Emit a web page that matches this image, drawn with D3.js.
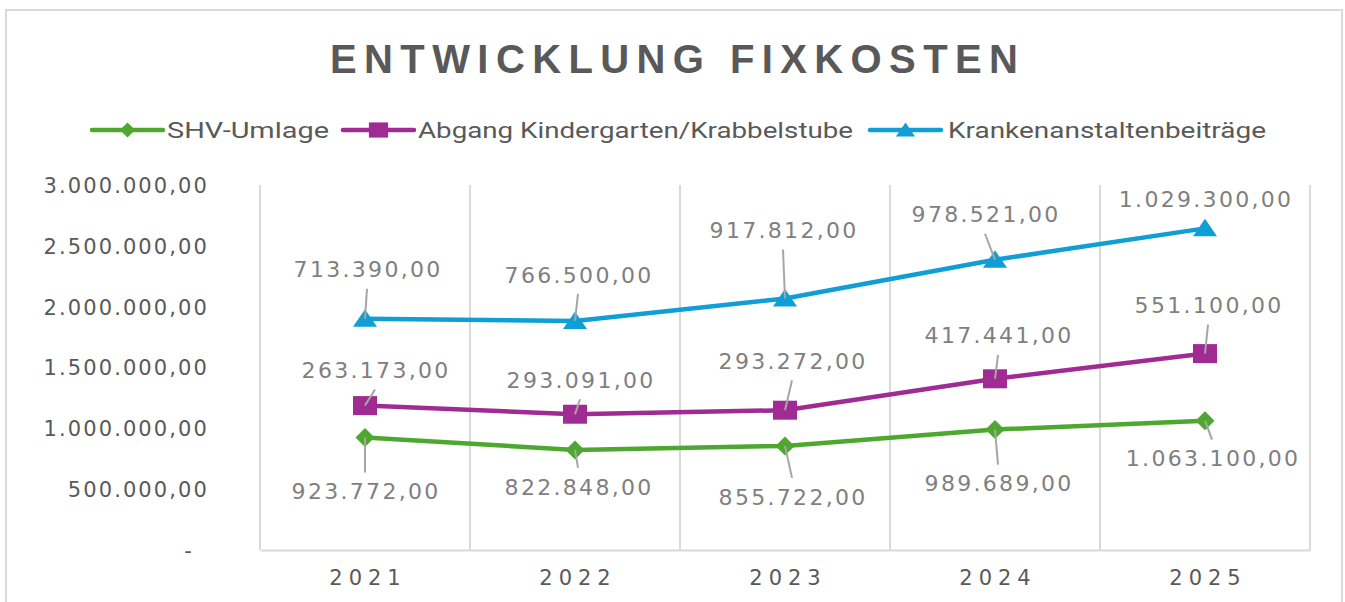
<!DOCTYPE html>
<html>
<head>
<meta charset="utf-8">
<script src="https://cdn.jsdelivr.net/npm/d3@7"></script>
<style>
  html, body { margin: 0; padding: 0; background: #ffffff; }
  svg { display: block; }
</style>
</head>
<body>
<svg id="chart" width="1345" height="602"></svg>
<script>
// ---------------- DATA ----------------
const title = "ENTWICKLUNG FIXKOSTEN";
const years = ["2021", "2022", "2023", "2024", "2025"];
const seriesNames = ["SHV-Umlage", "Abgang Kindergarten/Krabbelstube", "Krankenanstaltenbeiträge"];
const shvUmlage = [923772, 822848, 855722, 989689, 1063100];
const abgangKinder = [263173, 293091, 293272, 417441, 551100];
const krankenanstalten = [713390, 766500, 917812, 978521, 1029300];
const yTickValues = [0, 500000, 1000000, 1500000, 2000000, 2500000, 3000000];

// ---------------- LAYOUT / STYLE ----------------
const W = 1345, H = 602;
const plot = { left: 260, right: 1310, top: 185, bottom: 550 };
const colors = ["#4EA72E", "#A02B93", "#0F9ED5"];
const markerShapes = ["diamond", "square", "triangle"];
// label offsets (dx, dy) from the point to the label centre, per series per year
const labelOffsets = [
  [[0, 54], [3, 37], [7, 51], [3, 54], [7, 38]],
  [[10, -35], [5, -34], [7, -49], [3, -43], [3, -48]],
  [[2, -49], [3, -46], [-2, -68], [-10, -45], [0, -29]]
];
const legendLayout = { y: 130, lineX: [92, 343, 870], lineLen: 71, textX: [167, 418, 948], textW: [162, 435, 318] };

const svg = d3.select("#chart");
svg.append("rect").attr("width", W).attr("height", H).attr("fill", "#fff");
svg.append("rect").attr("x", 6).attr("y", 10).attr("width", 1336).attr("height", 600)
  .attr("fill", "none").attr("stroke", "#d9d9d9").attr("stroke-width", 2);

// locale
const de = d3.formatLocale({ decimal: ",", thousands: ".", grouping: [3], currency: ["", " €"] });
const fmt = de.format(",.2f");

// table + stacking
const keys = ["shv", "abgang", "kranken"];
const rows = years.map((y, i) => ({ year: y, shv: shvUmlage[i], abgang: abgangKinder[i], kranken: krankenanstalten[i] }));
const stacked = d3.stack().keys(keys)(rows);
const rawSeries = [shvUmlage, abgangKinder, krankenanstalten];

// scales
const x = d3.scaleBand().domain(years).range([plot.left, plot.right]).paddingInner(0).paddingOuter(0);
const cx = d => x(d) + x.bandwidth() / 2;
const y = d3.scaleLinear().domain([0, 3000000]).range([plot.bottom, plot.top]);

// vertical gridlines (category boundaries)
const gridXs = years.map(d => x(d)).concat([x(years[years.length - 1]) + x.bandwidth()]);
svg.append("g").selectAll("line").data(gridXs).join("line")
  .attr("x1", d => d).attr("x2", d => d)
  .attr("y1", plot.top).attr("y2", plot.bottom)
  .attr("stroke", "#d9d9d9").attr("stroke-width", 2);

// x axis
const xAxis = svg.append("g").attr("transform", `translate(0,${plot.bottom})`)
  .call(d3.axisBottom(x).tickSize(0).tickSizeOuter(0).tickPadding(0));
xAxis.select(".domain").attr("stroke", "#d9d9d9").attr("stroke-width", 2);
xAxis.selectAll(".tick text")
  .attr("y", 28).attr("dy", "0.35em").attr("dx", 3)
  .attr("fill", "#595959").style("font-family", "'DejaVu Sans', sans-serif")
  .style("font-size", "21px").style("letter-spacing", "6px");

// y axis
const yAxis = svg.append("g").attr("transform", `translate(209,0)`)
  .call(d3.axisLeft(y).tickValues(yTickValues).tickSize(0).tickPadding(0)
    .tickFormat(d => d === 0 ? "-" : fmt(d)));
yAxis.select(".domain").remove();
yAxis.selectAll(".tick text")
  .attr("x", 0).attr("dy", "0.35em")
  .attr("fill", "#595959").style("font-family", "'DejaVu Sans', sans-serif")
  .style("font-size", "21px").style("letter-spacing", "2.1px");
yAxis.selectAll(".tick text").filter(d => d === 0).attr("x", -15);

// marker path generators
function markerPath(shape, s) {
  s = s || 1;
  if (shape === "diamond") return `M0,${-9.5 * s}L${9.5 * s},0L0,${9.5 * s}L${-9.5 * s},0Z`;
  if (shape === "square") return `M${-12 * s},${-9.5 * s}H${12 * s}V${9.5 * s}H${-12 * s}Z`;
  return `M0,${-9.5 * s}L${12 * s},${8 * s}L${-12 * s},${8 * s}Z`;
}

// lines
const line = d3.line().x(d => cx(d.data.year)).y(d => y(d[1]));
stacked.forEach((s, i) => {
  svg.append("path").datum(s).attr("d", line)
    .attr("fill", "none").attr("stroke", colors[i]).attr("stroke-width", 4.5)
    .attr("stroke-linejoin", "round").attr("stroke-linecap", "round");
});
// markers
stacked.forEach((s, i) => {
  svg.append("g").selectAll("path").data(s).join("path")
    .attr("transform", d => `translate(${cx(d.data.year)},${y(d[1])})`)
    .attr("d", markerPath(markerShapes[i]))
    .attr("fill", colors[i]);
});

// data labels + leader lines
const labelG = svg.append("g");
stacked.forEach((s, i) => {
  s.forEach((d, j) => {
    const px = cx(d.data.year), py = y(d[1]);
    const [dx, dy] = labelOffsets[i][j];
    const lx = px + dx, ly = py + dy;
    const sign = dy < 0 ? 1 : -1;
    const sx = lx, sy = ly + sign * 19;
    if ((py - sy) * sign > 12) {
      labelG.append("line").attr("x1", sx).attr("y1", sy).attr("x2", px).attr("y2", py)
        .attr("stroke", "#a6a6a6").attr("stroke-width", 2);
    }
    labelG.append("text").attr("x", lx + 1.1).attr("y", ly).attr("dy", "0.35em")
      .attr("text-anchor", "middle")
      .attr("fill", "#7f7f7f").style("font-family", "'DejaVu Sans', sans-serif")
      .style("font-size", "22px").style("letter-spacing", "2.3px")
      .text(fmt(rawSeries[i][j]));
  });
});

// title
svg.append("text").attr("x", 330).attr("y", 73)
  .attr("textLength", 688).attr("lengthAdjust", "spacing")
  .attr("fill", "#595959").style("font-family", "'Liberation Sans', Arial, sans-serif")
  .style("font-weight", "bold").style("font-size", "40px")
  .text(title);

// legend
const lg = svg.append("g");
seriesNames.forEach((name, i) => {
  const x0 = legendLayout.lineX[i];
  lg.append("line").attr("x1", x0).attr("x2", x0 + legendLayout.lineLen)
    .attr("y1", legendLayout.y).attr("y2", legendLayout.y)
    .attr("stroke", colors[i]).attr("stroke-width", 4.5).attr("stroke-linecap", "round");
  lg.append("path").attr("transform", `translate(${x0 + legendLayout.lineLen / 2},${legendLayout.y})`)
    .attr("d", markerPath(markerShapes[i], 0.8)).attr("fill", colors[i]);
  lg.append("text").attr("x", legendLayout.textX[i]).attr("y", legendLayout.y + 8)
    .attr("textLength", legendLayout.textW[i]).attr("lengthAdjust", "spacingAndGlyphs")
    .attr("fill", "#595959").style("font-family", "Roboto, 'Noto Sans', sans-serif")
    .style("font-size", "22px")
    .text(name);
});
</script>
</body>
</html>
